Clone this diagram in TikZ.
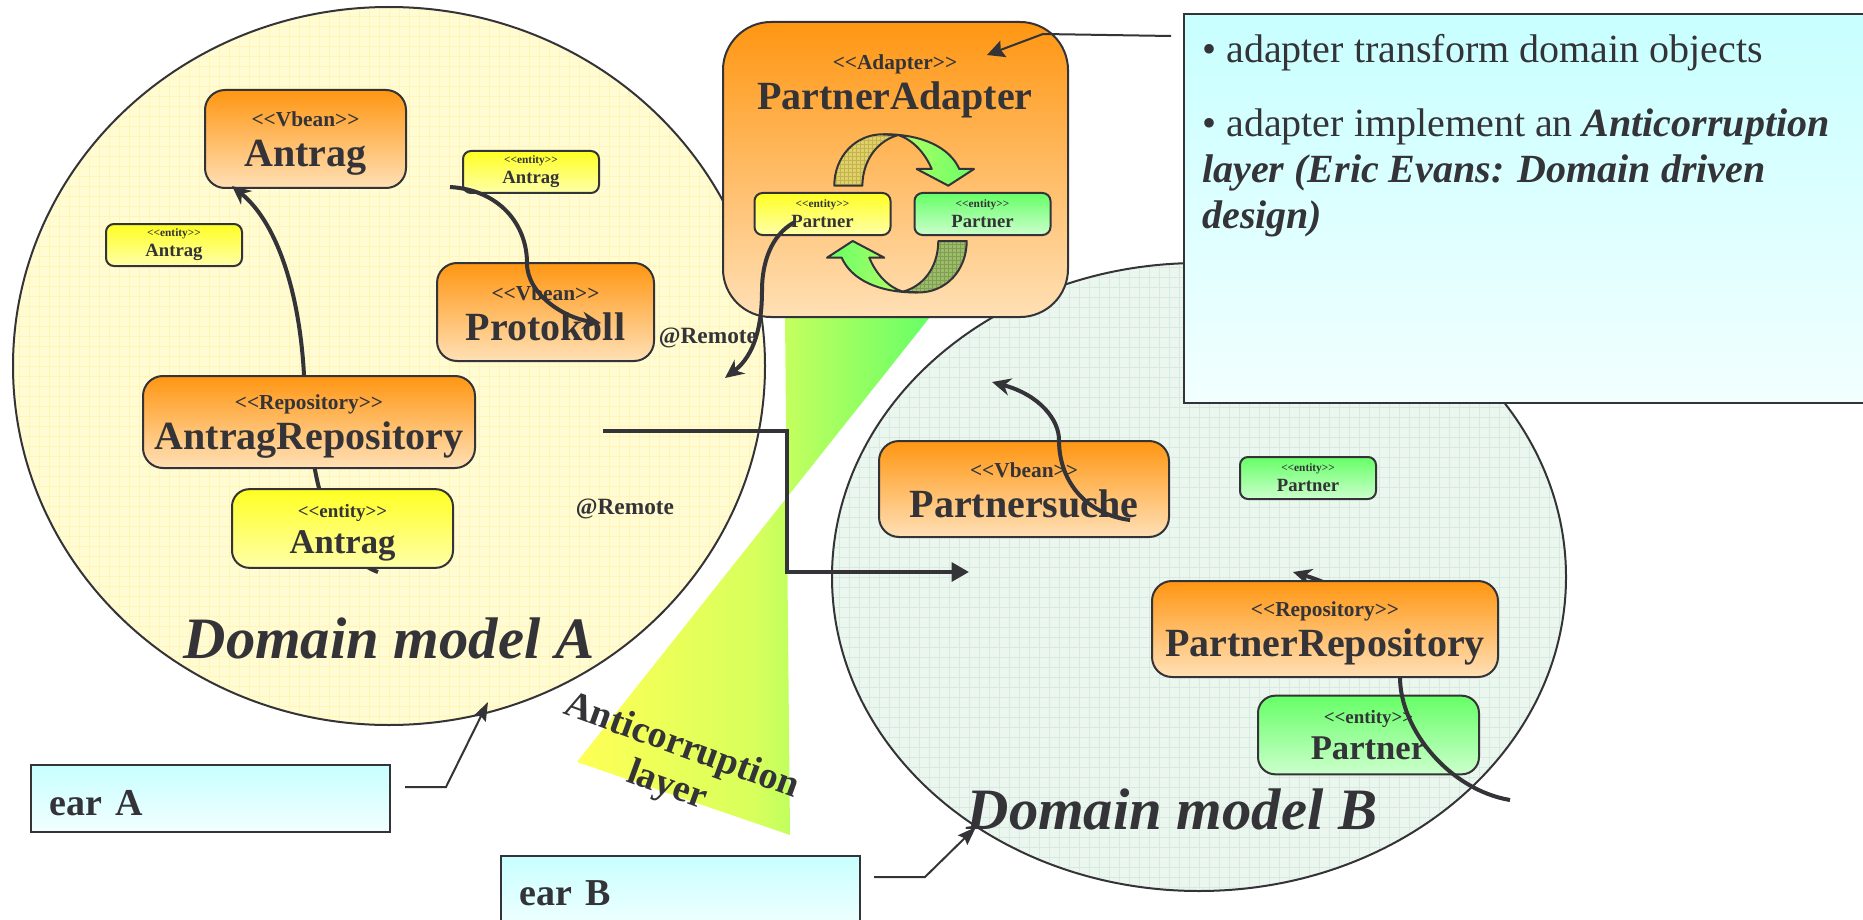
\documentclass[tikz,border=0pt]{standalone}
\usepackage{fontspec}
\setmainfont{Liberation Serif}
\usetikzlibrary{shapes,arrows.meta,patterns}

\definecolor{inkgrey}{HTML}{333338}
\definecolor{orange1}{HTML}{FF9612}
\definecolor{orange2}{HTML}{FFE0B6}
\definecolor{yellow1}{HTML}{FFFF22}
\definecolor{yellow2}{HTML}{FFFFAA}
\definecolor{green1}{HTML}{66FF66}
\definecolor{green2}{HTML}{CCFFCC}
\definecolor{cyan1}{HTML}{C8FFFF}
\definecolor{cyan2}{HTML}{F2FFFF}
\definecolor{lime1}{HTML}{C4FF66}
\definecolor{wedgeyellow}{HTML}{FFFF55}
\definecolor{wedgelime}{HTML}{D8FF5C}
\definecolor{creamfill}{HTML}{FFFBD2}
\definecolor{creamgrid}{HTML}{FFF5B8}
\definecolor{mintfill}{HTML}{EBF6EE}
\definecolor{mintgrid}{HTML}{D6EADF}
\definecolor{olive1}{HTML}{E0D066}
\definecolor{olive2}{HTML}{C2B452}
\definecolor{moss1}{HTML}{9DBB68}
\definecolor{moss2}{HTML}{7F9F55}
\newcommand{\stereo}[1]{{<}{<}#1{>}{>}}
\newcommand{\beantext}[3][18pt]{{\fontsize{16}{30}\selectfont\rule{0pt}{#1}\stereo{#2}}\\#3}
\newcommand{\smalltext}[1]{{\fontsize{8.5}{15}\selectfont\stereo{entity}}\\#1}
\newcommand{\bigtext}[2][16pt]{{\fontsize{14.2}{27}\selectfont\rule{0pt}{#1}\stereo{entity}}\\#2}

\tikzset{
    box/.style={draw=inkgrey, line width=1.5pt, inner sep=0pt, outer sep=0pt, align=center, text=inkgrey},
    bean/.style={box, rounded corners=15pt, top color=orange1, bottom color=orange2,
        font=\bfseries\fontsize{30}{30}\selectfont},
    smallentity/.style={box, rounded corners=6pt, minimum width=102pt, minimum height=31.5pt,
        font=\bfseries\fontsize{14}{15}\selectfont},
    bigentity/.style={box, rounded corners=13pt, minimum width=165.75pt, minimum height=59pt,
        font=\bfseries\fontsize{26}{27}\selectfont},
    yellowfill/.style={top color=yellow1, bottom color=yellow2},
    greenfill/.style={top color=green1, bottom color=green2},
    notebox/.style={draw=inkgrey, line width=1.5pt, inner sep=0pt, outer sep=0pt, top color=cyan1, bottom color=cyan2, text=inkgrey},
    domain/.style n args={2}{ellipse, draw=inkgrey, line width=1.5pt, inner sep=0pt, fill=#1,
        path picture={\draw[step=7.5pt, draw=#2, line width=0.5pt]
            (path picture bounding box.south west) grid (path picture bounding box.north east);}},
    label/.style={text=inkgrey, inner sep=0pt},
    curvearrow/.style={draw=inkgrey, line width=3pt, -{Stealth[length=14pt,width=13pt]}},
    leader/.style={draw=inkgrey, line width=1.5pt, -{Stealth[length=14pt,width=10pt,inset=2pt]}},
    turner/.style={draw=inkgrey, line width=1.5pt, line join=round},
}

\begin{document}
\begin{tikzpicture}[x=0.75pt, y=-0.75pt]
    \useasboundingbox (0,0) rectangle (1863,920);
    \clip (0,0) rectangle (1863,920);

    % Layer wedge and the two domains
    \shade[left color=wedgeyellow, right color=green1, middle color=wedgelime]
        (930,317) -- (785,317) -- (790,835) -- (577,762) -- cycle;
    \node[domain={creamfill}{creamgrid}, minimum width=564pt, minimum height=538.5pt] (domA) at (389,366) {};
    \node[domain={mintfill}{mintgrid}, minimum width=550.5pt, minimum height=471pt] (domB) at (1199,577) {};

    % Domain A
    \node[bean, minimum width=150.75pt, minimum height=73.5pt] (antragbean) at (305.5,139) {\beantext{Vbean}{Antrag}};
    \coordinate (antragstart) at (378,572);
    \coordinate (antragtip) at (232,186);
    \draw[curvearrow] (antragstart) .. controls (345,560) and (325,520) .. (316,475)
        .. controls (307,430) and (305,400) .. (304,375) .. controls (300,300) and (280,225) .. (antragtip);
    \node[bean, minimum width=249pt, minimum height=69pt] (antragrepo) at (309,422) {\beantext{Repository}{AntragRepository}};
    \node[bigentity, yellowfill] (antragentity) at (342.5,528.5) {\bigtext{Antrag}};
    \node[bean, minimum width=162.75pt, minimum height=73.5pt] (protokoll) at (545.5,312) {\beantext[13pt]{Vbean}{Protokoll}};
    \node[smallentity, yellowfill] (antragright) at (531,172) {\smalltext{Antrag}};
    \node[smallentity, yellowfill] (antragleft) at (174,245) {\smalltext{Antrag}};

    \coordinate (protostart) at (450,187);
    \coordinate (prototip) at (601,323);
    \draw[curvearrow] (protostart) .. controls (500,190) and (527,225) .. (527,263)
        .. controls (527,295) and (565,318) .. (prototip);

    % Domain B
    \node[bean, minimum width=217.5pt, minimum height=72pt] (suche) at (1024,489) {\beantext[13pt]{Vbean}{Partnersuche}};
    \node[smallentity, greenfill] (partnersmall) at (1308,478) {\smalltext{Partner}};
    \node[bigentity, greenfill] (partnerentity) at (1368.5,735) {\bigtext[9pt]{Partner}};
    \coordinate (partnerstart) at (1510,800);
    \coordinate (partnertip) at (1293,572);
    \draw[curvearrow] (partnerstart) .. controls (1450,790) and (1400,730) .. (1400,677)
        .. controls (1400,640) and (1370,595) .. (partnertip);
    \node[bean, minimum width=259.5pt, minimum height=72pt] (partnerrepo) at (1325,629) {\beantext{Repository}{PartnerRepository}};

    \coordinate (suchestart) at (1130,520);
    \coordinate (suchetip) at (992,382);
    \draw[curvearrow] (suchestart) .. controls (1090,515) and (1059,485) .. (1059,440)
        .. controls (1059,420) and (1040,395) .. (suchetip);

    % Remote call
    \coordinate (remotestart) at (603,431);
    \coordinate (remotetip) at (969,572);
    \draw[draw=inkgrey, line width=3pt, -{Stealth[length=13pt,width=14pt,inset=0pt]}]
        (remotestart) -| (787,572) -- (remotetip);
    \node[label, font=\bfseries\fontsize{17.5}{20}\selectfont] (remoteone) at (708,338) {@Remote};
    \node[label, font=\bfseries\fontsize{17.5}{20}\selectfont] (remotetwo) at (625,509) {@Remote};

    % Adapter
    \node[box, rounded corners=36pt, top color=orange1, bottom color=orange2,
        minimum width=258.75pt, minimum height=221.25pt] (adapter) at (895.5,169.5) {};
    \node[label, align=center, font=\bfseries\fontsize{30}{30}\selectfont] (adaptertext) at (895,82) {\beantext{Adapter}{PartnerAdapter}};
    \node[smallentity, yellowfill] (partnerleft) at (822.5,214) {\smalltext{Partner}};
    \node[smallentity, greenfill] (partnerright) at (982.5,214) {\smalltext{Partner}};

    % Turning arrows
    \path[turner, preaction={fill=olive1}, pattern=grid, pattern color=olive2]
        (834.3,185.7) -- (862.3,185.7) .. controls (863,157) and (880,140) .. (898.3,135)
        -- (883.3,134.3) .. controls (855,134) and (834.3,157) .. cycle;
    \path[turner, left color=lime1, right color=green1]
        (898.3,135) -- (883.3,134.3) .. controls (923,134) and (950,148) .. (959.3,169)
        -- (974,169) -- (948.3,185.7) -- (916.7,169) -- (931.7,169)
        .. controls (925,153) and (913,140) .. cycle;
    \path[turner, preaction={fill=moss1}, pattern=grid, pattern color=moss2]
        (966.7,241) -- (938.3,241) .. controls (938,270) and (921,287) .. (902.7,291.7)
        -- (917.7,292.4) .. controls (946,293) and (966.7,270) .. cycle;
    \path[turner, left color=green1, right color=lime1]
        (902.7,291.7) -- (917.7,292.4) .. controls (878,293) and (851,279) .. (841.7,257.7)
        -- (827,257.7) -- (852.7,241) -- (884.3,257.7) -- (869.3,257.7)
        .. controls (876,274) and (888,287) .. cycle;

    \coordinate (adapterstart) at (795,222);
    \coordinate (adaptertip) at (725,378);
    \draw[curvearrow] (adapterstart) .. controls (770,235) and (762,265) .. (762,290)
        .. controls (762,325) and (755,355) .. (adaptertip);

    % Note
    \node[notebox, minimum width=522pt, minimum height=291.75pt] (note) at (1532,208.5) {};
    \node[label, anchor=north west, align=left, font=\fontsize{30}{34.3}\selectfont] (notetext) at (1202,34)
        {• adapter transform domain objects\\[21.5pt]
         • adapter implement an \textbf{\textit{Anticorruption}}\\
         \textbf{\textit{layer (Eric Evans: Domain driven}}\\
         \textbf{\textit{design)}}};
    \coordinate (noteout) at (1171,36);
    \coordinate (noteknee) at (1043,34);
    \coordinate (notetip) at (987,55);
    \draw[leader, -{Stealth[length=13pt,width=13pt,inset=2pt]}] (noteout) -- (noteknee) -- (notetip);

    % Model titles
    \node[label, font=\bfseries\itshape\fontsize{44}{50}\selectfont] (titleA) at (389,638) {Domain model A};
    \node[label, font=\bfseries\itshape\fontsize{44}{50}\selectfont] (titleB) at (1172,809) {Domain model B};
    \node[label, rotate=-20, align=center, font=\bfseries\fontsize{28.5}{31.5}\selectfont] (layertext) at (674,767)
        {Anticorruption\\layer};

    % Ears
    \node[notebox, minimum width=269pt, minimum height=50.25pt, text width=241pt, inner xsep=14pt,
        align=left, font=\bfseries\fontsize{28.5}{32}\selectfont] (earA) at (210.5,798.5) {\raisebox{-3.75pt}[\height][\depth]{ear A}};
    \node[notebox, minimum width=269pt, minimum height=55.5pt, text width=241pt, inner xsep=14pt,
        align=left, font=\bfseries\fontsize{28.5}{32}\selectfont] (earB) at (680.5,893) {ear B};
    \coordinate (earAout) at (405,787);
    \coordinate (earAknee) at (446,787);
    \coordinate (earAtip) at (488,702);
    \draw[leader] (earAout) -- (earAknee) -- (earAtip);
    \coordinate (earBout) at (874,877);
    \coordinate (earBknee) at (925,877);
    \coordinate (earBtip) at (976,827);
    \draw[leader] (earBout) -- (earBknee) -- (earBtip);
\end{tikzpicture}
\end{document}
